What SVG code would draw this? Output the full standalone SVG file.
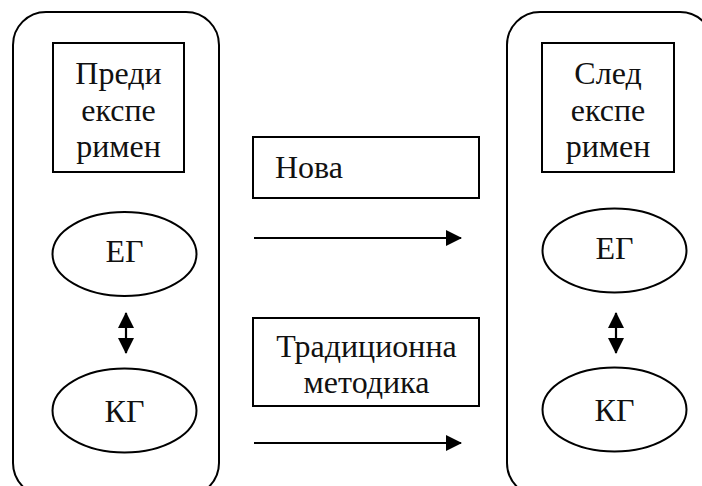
<svg xmlns="http://www.w3.org/2000/svg" width="702" height="486" viewBox="0 0 702 486">
<style>
.box{fill:none;stroke:#000;stroke-width:2}
.rect{fill:#fff;stroke:#000;stroke-width:2}
.t{font-size:32px;fill:#111}
.c{text-anchor:middle}
.ln{stroke:#000;stroke-width:2.2;fill:none}
</style>
<defs>
<marker id="ah" markerWidth="16" markerHeight="16" viewBox="0 0 16 16" refX="15" refY="8" orient="auto" markerUnits="userSpaceOnUse">
<path d="M0,0 L16,8 L0,16 Z" fill="#000"/>
</marker>
<marker id="ahs" markerWidth="16" markerHeight="16" viewBox="0 0 16 16" refX="15" refY="8" orient="auto-start-reverse" markerUnits="userSpaceOnUse">
<path d="M0,0 L16,8 L0,16 Z" fill="#000"/>
</marker>
</defs>
<g font-family="'Liberation Serif', 'DejaVu Serif', serif">
<g id="before">
<rect class="box" x="13" y="12" width="206" height="484" rx="33" ry="33"/>
</g>
<g id="after">
<rect class="box" x="507" y="12" width="206" height="484" rx="33" ry="33"/>
</g>
<g id="before-label">
<rect class="rect" x="53" y="43" width="131" height="129"/>
<text class="t c" x="118.5" y="84">Преди</text>
<text class="t c" x="118.5" y="120.5">експе</text>
<text class="t c" x="118.5" y="157">римен</text>
</g>
<g id="after-label">
<rect class="rect" x="542" y="43" width="132" height="129"/>
<text class="t c" x="608" y="84">След</text>
<text class="t c" x="608" y="120.5">експе</text>
<text class="t c" x="608" y="157">римен</text>
</g>
<g id="eg-left">
<ellipse class="rect" cx="124.5" cy="254" rx="72" ry="42"/>
<text class="t c" x="124.5" y="262">ЕГ</text>
</g>
<g id="kg-left">
<ellipse class="rect" cx="124.5" cy="410.5" rx="72" ry="42"/>
<text class="t c" x="124.5" y="421.5">КГ</text>
</g>
<g id="eg-right">
<ellipse class="rect" cx="614.5" cy="250.5" rx="72" ry="42"/>
<text class="t c" x="614.5" y="259">ЕГ</text>
</g>
<g id="kg-right">
<ellipse class="rect" cx="614.5" cy="409.5" rx="72" ry="42"/>
<text class="t c" x="614.5" y="420.5">КГ</text>
</g>
<g id="new">
<rect class="rect" x="253" y="137" width="226" height="61"/>
<text class="t" x="275" y="178">Нова</text>
</g>
<g id="traditional">
<rect class="rect" x="253" y="318" width="226" height="88"/>
<text class="t c" x="366.5" y="357">Традиционна</text>
<text class="t c" x="366.5" y="393">методика</text>
</g>
</g>
<g id="connectors">
<line class="ln" x1="254" y1="238" x2="461" y2="238" marker-end="url(#ah)"/>
<line class="ln" x1="254" y1="443" x2="461" y2="443" marker-end="url(#ah)"/>
<line class="ln" x1="126" y1="313" x2="126" y2="353" marker-start="url(#ahs)" marker-end="url(#ah)"/>
<line class="ln" x1="616" y1="313" x2="616" y2="353" marker-start="url(#ahs)" marker-end="url(#ah)"/>
</g>
</svg>
